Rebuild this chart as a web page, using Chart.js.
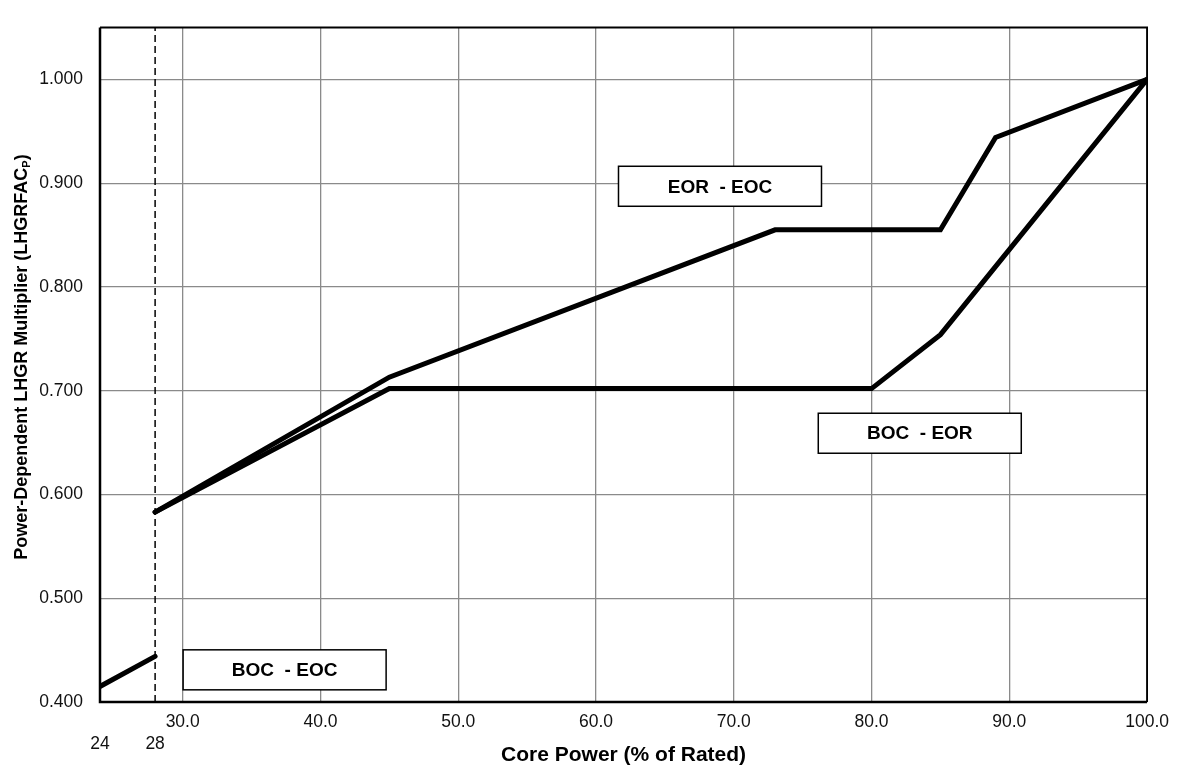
<!DOCTYPE html>
<html>
<head>
<meta charset="utf-8">
<title>LHGRFAC_P</title>
<script src="https://cdn.jsdelivr.net/npm/chart.js@4.4.1/dist/chart.umd.min.js"></script>
<style>
  html, body { margin:0; padding:0; background:#fff; }
  #chart { display:block; }
</style>
</head>
<body>
<canvas id="chart" width="1178" height="770"></canvas>
<script>
// data
const bocEocX = [24, 28];
const bocEocY = [0.415, 0.444];

const eorEocX = [28, 45, 73, 85, 89, 100];
const eorEocY = [0.583, 0.713, 0.855, 0.855, 0.944, 1.000];

const bocEorX = [28, 45, 80, 85, 100];
const bocEorY = [0.583, 0.702, 0.702, 0.754, 1.000];

const limitX = [28, 28];
const limitY = [0.4, 1.05];

const xTicks = [24, 28, 30, 40, 50, 60, 70, 80, 90, 100];
const yTicks = [0.4, 0.5, 0.6, 0.7, 0.8, 0.9, 1.0];

const boxTexts = ['EOR  - EOC', 'BOC  - EOR', 'BOC  - EOC'];
const boxAtX = [69.0, 83.5, 37.4];
const boxAtY = [0.897, 0.659, 0.431];

const FONT = '"Liberation Sans", Arial, sans-serif';

const pts = (xs, ys) => xs.map((x, i) => ({ x, y: ys[i] }));

const curve = (data) => ({
  data,
  borderColor: '#000',
  borderWidth: 5,
  borderCapStyle: 'round',
  borderJoinStyle: 'miter',
  pointRadius: 0,
  tension: 0,
  fill: false
});

/* -------------------------------------------
   plot frame, label boxes, y title
-------------------------------------------- */
const framePlugin = {
  id: 'frame',
  afterDatasetsDraw(chart) {
    const { ctx, chartArea: a, scales } = chart;
    ctx.save();

    // boxes
    ctx.font = 'bold 19px ' + FONT;
    ctx.textAlign = 'center';
    ctx.textBaseline = 'middle';
    boxTexts.forEach((t, i) => {
      const cx = scales.x.getPixelForValue(boxAtX[i]);
      const cy = scales.y.getPixelForValue(boxAtY[i]);
      const w = 203, h = 40;
      ctx.fillStyle = '#fff';
      ctx.fillRect(cx - w / 2, cy - h / 2, w, h);
      ctx.lineWidth = 1.5;
      ctx.strokeStyle = '#000';
      ctx.strokeRect(cx - w / 2, cy - h / 2, w, h);
      ctx.fillStyle = '#000';
      ctx.fillText(t, cx, cy + 1);
    });

    // frame
    ctx.strokeStyle = '#000';
    ctx.lineWidth = 1.8;
    ctx.beginPath();
    ctx.moveTo(a.left, a.top);
    ctx.lineTo(a.right, a.top);
    ctx.lineTo(a.right, a.bottom);
    ctx.stroke();
    ctx.lineWidth = 2.5;
    ctx.beginPath();
    ctx.moveTo(a.left, a.top);
    ctx.lineTo(a.left, a.bottom);
    ctx.lineTo(a.right, a.bottom);
    ctx.stroke();

    // y title with subscript P
    const main = 'Power-Dependent LHGR Multiplier (LHGRFAC';
    ctx.translate(22, 357);
    ctx.rotate(-Math.PI / 2);
    ctx.textAlign = 'left';
    ctx.textBaseline = 'middle';
    ctx.font = 'bold 18px ' + FONT;
    const w1 = ctx.measureText(main).width;
    ctx.font = 'bold 11px ' + FONT;
    const w2 = ctx.measureText('P').width;
    ctx.font = 'bold 18px ' + FONT;
    const w3 = ctx.measureText(')').width;
    let x0 = -(w1 + w2 + w3) / 2;
    ctx.fillStyle = '#000';
    ctx.fillText(main, x0, 0);
    ctx.font = 'bold 11px ' + FONT;
    ctx.fillText('P', x0 + w1, 5);
    ctx.font = 'bold 18px ' + FONT;
    ctx.fillText(')', x0 + w1 + w2, 0);
    ctx.restore();
  }
};

new Chart(document.getElementById('chart'), {
  type: 'line',
  data: {
    datasets: [
      {
        data: pts(limitX, limitY),
        borderColor: '#000',
        borderWidth: 1.5,
        borderDash: [7, 4],
        pointRadius: 0,
        fill: false
      },
      curve(pts(bocEocX, bocEocY)),
      curve(pts(eorEocX, eorEocY)),
      curve(pts(bocEorX, bocEorY))
    ]
  },
  options: {
    responsive: false,
    animation: false,
    layout: { padding: { top: 8, right: 25, left: 0, bottom: 0 } },
    plugins: { legend: { display: false }, tooltip: { enabled: false } },
    scales: {
      x: {
        type: 'linear',
        min: 24,
        max: 100,
        afterBuildTicks: s => { s.ticks = xTicks.map(v => ({ value: v })); },
        afterFit: s => { s.height = 68; },
        border: { display: false },
        grid: {
          drawTicks: false,
          lineWidth: 1.3,
          color: c => (c.tick && c.tick.value >= 30 ? '#8a8a8a' : 'rgba(0,0,0,0)')
        },
        ticks: {
          autoSkip: false,
          maxRotation: 0,
          padding: 9,
          color: '#111',
          font: { family: FONT, size: 17.5, lineHeight: 1.27 },
          callback: v => (v < 30 ? ['', String(v)] : v.toFixed(1))
        },
        title: {
          display: true,
          text: 'Core Power (% of Rated)',
          color: '#000',
          font: { family: FONT, size: 21, weight: 'bold', lineHeight: 1.2 },
          padding: { top: 0, bottom: 2 }
        }
      },
      y: {
        type: 'linear',
        min: 0.4,
        max: 1.05,
        afterBuildTicks: s => { s.ticks = yTicks.map(v => ({ value: v })); },
        afterFit: s => { s.width = 100; },
        border: { display: false },
        grid: { drawTicks: false, lineWidth: 1.3, color: '#8a8a8a' },
        ticks: {
          padding: 17,
          color: '#111',
          font: { family: FONT, size: 17.5 },
          callback: v => v.toFixed(3)
        }
      }
    }
  },
  plugins: [framePlugin]
});
</script>
</body>
</html>
